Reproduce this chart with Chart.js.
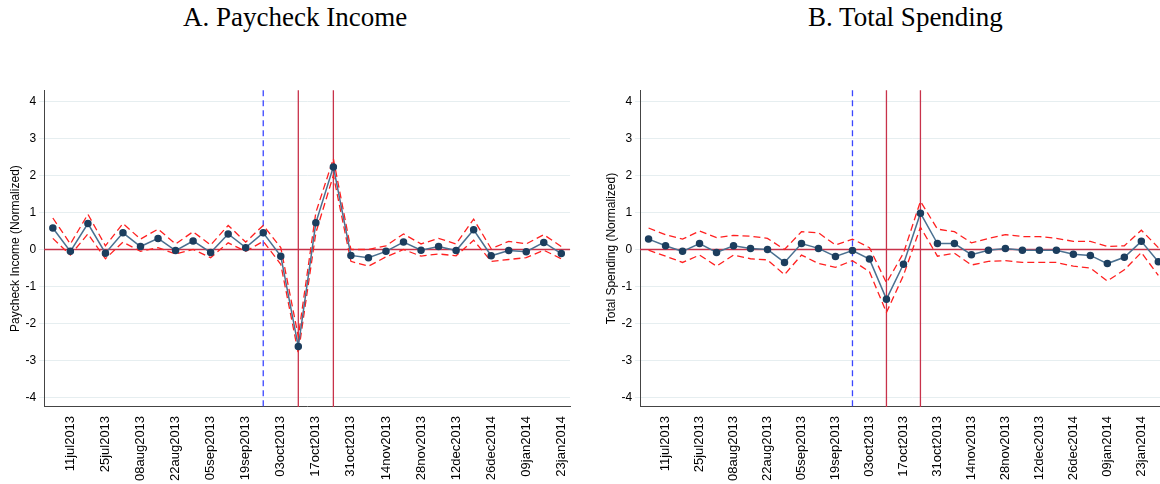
<!DOCTYPE html>
<html>
<head>
<meta charset="utf-8">
<script src="https://cdn.jsdelivr.net/npm/chart.js@4"></script>
<style>
  body { margin: 0; background: #fff; width: 1160px; height: 484px; position: relative; overflow: hidden; }
  .title { position: absolute; top: 2px; font-family: "Liberation Serif", "DejaVu Serif", serif; font-size: 27px; color: #000; }
  .box { position: absolute; top: 80px; height: 404px; }
</style>
</head>
<body>
<div class="title" style="left:183px">A. Paycheck Income</div>
<div class="title" style="left:808px">B. Total Spending</div>
<div class="box" style="left:8px;width:572px"><canvas id="chartA"></canvas></div>
<div class="box" style="left:604px;width:590px"><canvas id="chartB"></canvas></div>
<script>
// weekly dates (labels as printed on the original axis)
const weeks = ['04jul2013','11jul2013','18jul2013','25jul2013','01aug2013','08aug2013','15aug2013','22aug2013',
  '29aug2013','05sep2013','12sep2013','19sep2013','26sep2013','03oct2013','10oct2013','17oct2013','24oct2013',
  '31oct2013','07nov2013','14nov2013','21nov2013','28nov2013','05dec2013','12dec2013','19dec2013','26dec2014',
  '02jan2014','09jan2014','16jan2014','23jan2014','30jan2014','06feb2014'];
const yTicks = [-4, -3, -2, -1, 0, 1, 2, 3, 4];
const blueLineAt = 12;      // dashed line index
const redLinesAt = [14, 16]; // solid lines index

// A. Paycheck income
const incomeEst = [0.58,-0.05,0.7,-0.1,0.45,0.08,0.3,-0.03,0.23,-0.08,0.42,0.05,0.45,-0.18,-2.62,0.72,2.23,
  -0.16,-0.22,-0.05,0.2,-0.02,0.08,-0.03,0.53,-0.17,-0.03,-0.06,0.19,-0.11];
const incomeHi = [0.85,0.15,0.95,0.1,0.7,0.28,0.55,0.15,0.48,0.12,0.65,0.2,0.65,0.05,-2.35,1.0,2.45,
  0.0,0.0,0.1,0.42,0.15,0.3,0.15,0.82,0.02,0.22,0.15,0.4,0.08];
const incomeLo = [0.3,-0.15,0.42,-0.25,0.2,-0.05,0.05,-0.12,0.0,-0.22,0.18,-0.05,0.22,-0.4,-2.8,0.45,2.0,
  -0.32,-0.45,-0.2,0.0,-0.18,-0.12,-0.17,0.25,-0.32,-0.27,-0.22,-0.02,-0.25];

// B. Total spending
const spendEst = [0.28,0.1,-0.05,0.16,-0.08,0.1,0.03,0,-0.35,0.16,0.03,-0.19,-0.03,-0.26,-1.34,-0.4,0.98,
  0.16,0.16,-0.14,-0.02,0.03,-0.02,-0.02,-0.02,-0.13,-0.16,-0.38,-0.21,0.22,-0.33];
const spendHi = [0.58,0.4,0.28,0.5,0.32,0.38,0.36,0.3,0,0.48,0.45,0.12,0.28,0.05,-0.9,-0.1,1.3,
  0.55,0.48,0.18,0.3,0.4,0.35,0.35,0.3,0.22,0.22,0.08,0.1,0.52,0.05];
const spendLo = [-0.02,-0.18,-0.35,-0.15,-0.45,-0.15,-0.25,-0.28,-0.68,-0.15,-0.38,-0.48,-0.3,-0.6,-1.7,-0.7,0.6,
  -0.18,-0.1,-0.42,-0.32,-0.3,-0.35,-0.35,-0.35,-0.45,-0.5,-0.85,-0.55,-0.08,-0.7];

const refLines = {
  id: 'refLines',
  beforeDatasetsDraw(chart) {
    const { ctx, chartArea: a, scales: { x, y } } = chart;
    ctx.save();
    ctx.lineWidth = 1.3;
    ctx.strokeStyle = '#c8324a';
    const y0 = y.getPixelForValue(0);
    ctx.beginPath(); ctx.moveTo(a.left, y0); ctx.lineTo(a.right, y0); ctx.stroke();
    redLinesAt.forEach(i => {
      const px = x.getPixelForValue(i);
      ctx.beginPath(); ctx.moveTo(px, a.top); ctx.lineTo(px, a.bottom); ctx.stroke();
    });
    ctx.strokeStyle = '#3b46ff';
    ctx.setLineDash([6, 4]);
    const bx = x.getPixelForValue(blueLineAt);
    ctx.beginPath(); ctx.moveTo(bx, a.top); ctx.lineTo(bx, a.bottom); ctx.stroke();
    ctx.restore();
  }
};

function makeChart(id, n, est, hi, lo, yTitle) {
  const band = data => ({ data, borderColor: '#ff2020', borderWidth: 1.3, borderDash: [7, 4], pointRadius: 0, fill: false, tension: 0 });
  new Chart(document.getElementById(id), {
    type: 'line',
    data: {
      labels: weeks.slice(0, n),
      datasets: [
        { data: est, borderColor: '#4a7090', borderWidth: 1.5, pointRadius: 3, pointBackgroundColor: '#1c3e5e', pointBorderColor: '#1c3e5e', tension: 0 },
        band(hi), band(lo)
      ]
    },
    options: {
      responsive: true, maintainAspectRatio: false, animation: false,
      layout: { padding: { top: 8, right: 0 } },
      plugins: { legend: { display: false }, tooltip: { enabled: false } },
      scales: {
        x: {
          offset: true,
          grid: { display: false, drawTicks: true, tickLength: 6 },
          border: { color: '#444' },
          ticks: {
            autoSkip: false, minRotation: 90, maxRotation: 90, color: '#000',
            font: { family: 'Liberation Sans, Arial', size: 13 },
            callback: (v, i) => (i % 2 === 1 && i < 30 ? weeks[i] : '')
          }
        },
        y: {
          min: -4.25, max: 4.3,
          afterBuildTicks: s => { s.ticks = yTicks.map(v => ({ value: v })); },
          grid: { color: '#e6eef0', drawTicks: true, tickLength: 5 },
          border: { color: '#444' },
          title: { display: true, text: yTitle, color: '#000', font: { family: 'Liberation Sans, Arial', size: 12 }, padding: 0 },
          ticks: { color: '#000', font: { family: 'Liberation Sans, Arial', size: 12 } }
        }
      }
    },
    plugins: [refLines]
  });
}

makeChart('chartA', 30, incomeEst, incomeHi, incomeLo, 'Paycheck Income (Normalized)');
makeChart('chartB', 32, spendEst, spendHi, spendLo, 'Total Spending (Normalized)');
</script>
</body>
</html>
